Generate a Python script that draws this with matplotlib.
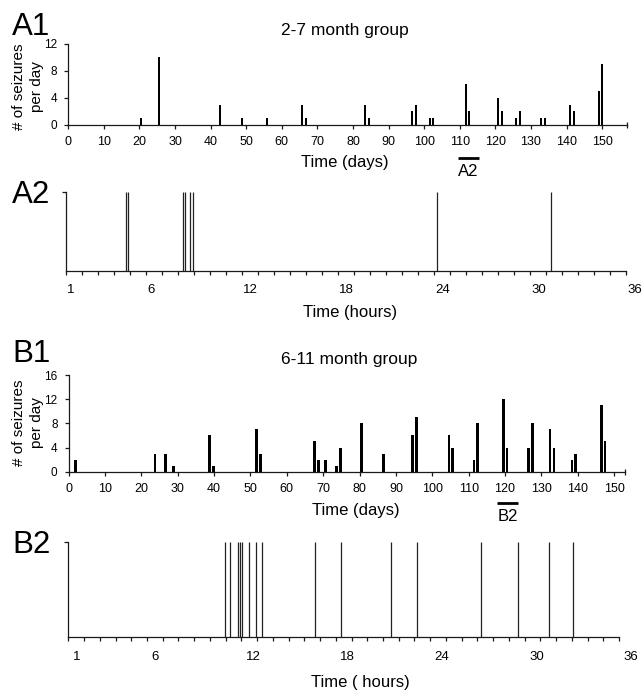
import matplotlib
matplotlib.use("Agg")
import matplotlib.pyplot as plt
import matplotlib.transforms as mtransforms

plt.rcParams['font.family'] = ['Liberation Sans', 'DejaVu Sans']

# ---------------- data ----------------
a1_days = [20.4, 25.5, 42.6, 48.7, 55.8, 65.7, 66.8, 83.5, 84.4, 96.5, 97.6,
           101.6, 102.5, 111.7, 112.7, 120.8, 121.8, 125.8, 126.8, 132.9,
           133.9, 140.9, 142.0, 149.0, 150.0]
a1_counts = [1, 10, 3, 1, 1, 3, 1, 3, 1, 2, 3, 1, 1, 6, 2, 4, 2, 1, 2, 1, 1,
             3, 2, 5, 9]
a1_xticks = list(range(0, 151, 10))
a1_yticks = [0, 4, 8, 12]
a2_window = [109.6, 115.3]

a2_hours = [4.71, 4.84, 8.28, 8.40, 8.71, 8.90, 24.15, 31.28]

b1_days = [1.8, 23.7, 26.7, 28.8, 38.8, 39.8, 51.7, 52.7, 67.6, 68.7, 70.6,
           73.7, 74.8, 80.6, 86.6, 94.5, 95.6, 104.6, 105.6, 111.5, 112.5,
           119.5, 120.5, 126.5, 127.6, 132.4, 133.5, 138.4, 139.4, 146.5, 147.5]
b1_counts = [2, 3, 3, 1, 6, 1, 7, 3, 5, 2, 2, 1, 4, 8, 3, 6, 9, 6, 4, 2, 8,
             12, 4, 4, 8, 7, 4, 2, 3, 11, 5]
b1_xticks = list(range(0, 151, 10))
b1_yticks = [0, 4, 8, 12, 16]
b2_window = [117.9, 123.6]

b2_hours = [10.96, 11.28, 11.79, 11.92, 12.06, 12.47, 12.95, 13.33, 16.66,
            18.34, 21.52, 23.17, 27.24, 29.59, 31.54, 33.07]

hour_ticks = list(range(1, 37))
hour_labels = [1, 6, 12, 18, 24, 30, 36]

ylabel_lines = ['# of seizures', 'per day']

W, H = 644, 692
fig = plt.figure(figsize=(W / 100, H / 100), dpi=100)
fig.patch.set_facecolor('white')

def box(l, r, t, b):
    return [l / W, 1 - b / H, (r - l) / W, (b - t) / H]

def fp(x, y):
    return (x / W, 1 - y / H)

AX = '#1a1a1a'

def style(ax):
    for s in ['top', 'right']:
        ax.spines[s].set_visible(False)
    for s in ['left', 'bottom']:
        ax.spines[s].set_color(AX)
        ax.spines[s].set_linewidth(0.9)
    ax.tick_params(colors=AX, width=0.9, length=3, direction='out')
    ax.set_facecolor('white')

def ylabel(ycenter):
    fig.text(*fp(19.5, ycenter), ylabel_lines[0], fontsize=11, rotation=90,
             ha='center', va='center')
    fig.text(*fp(37.5, ycenter), ylabel_lines[1], fontsize=11, rotation=90,
             ha='center', va='center')

# ---------------- A1 ----------------
ax1 = fig.add_axes(box(68.3, 627, 44, 124.7))
style(ax1)
ax1.bar(a1_days, a1_counts, width=0.55, color='black', linewidth=0)
ax1.set_xlim(0, 157)
ax1.set_ylim(0, 12)
ax1.set_xticks(a1_xticks)
ax1.set_yticks(a1_yticks)
ax1.set_xticks([157], minor=True)
ax1.tick_params(axis='x', which='minor', direction='inout', length=5, width=0.9, colors=AX)
ax1.tick_params(axis='x', labelsize=9, pad=5)
ax1.tick_params(axis='y', labelsize=8.5, pad=5)
for t in ax1.get_xticklabels() + ax1.get_yticklabels():
    t.set_color('black')
fig.text(*fp(345, 35), '2-7 month group', fontsize=12.5, ha='center', va='baseline')
fig.text(*fp(12, 35), 'A1', fontsize=22.5, ha='left', va='baseline')
ylabel(87)
fig.text(*fp(345, 163), 'Time (days)', fontsize=12, ha='center', va='center')
tr1 = mtransforms.blended_transform_factory(ax1.transData, fig.transFigure)
ax1.plot(a2_window, [1 - 157.7 / H] * 2, color='black', lw=2, transform=tr1,
         clip_on=False, solid_capstyle='butt')
fig.text(*fp(468.3, 172), 'A2', fontsize=12, ha='center', va='center')

# ---------------- A2 ----------------
ax2 = fig.add_axes(box(66.3, 626.3, 192.3, 271))
style(ax2)
ax2.vlines(a2_hours, 0, 1, color='#222222', lw=0.9)
ax2.set_xlim(1, 36)
ax2.set_ylim(0, 1)
ax2.set_xticks(hour_ticks)
ax2.set_xticklabels([str(h) if h in hour_labels else '' for h in hour_ticks])
ax2.set_yticks([1])
ax2.set_yticklabels([''])
ax2.tick_params(axis='x', labelsize=9.5, pad=6)
off2 = mtransforms.ScaledTranslation(1 / 100, 0, fig.dpi_scale_trans)
for t in ax2.get_xticklabels():
    t.set_ha('left')
    t.set_transform(t.get_transform() + off2)
    t.set_color('black')
fig.text(*fp(12, 203), 'A2', fontsize=22.5, ha='left', va='baseline')
fig.text(*fp(350.5, 312), 'Time (hours)', fontsize=12, ha='center', va='center')

# ---------------- B1 ----------------
ax3 = fig.add_axes(box(68.7, 625, 375, 471.7))
style(ax3)
ax3.bar(b1_days, b1_counts, width=0.72, color='black', linewidth=0)
ax3.set_xlim(0, 153)
ax3.set_ylim(0, 16)
ax3.set_xticks(b1_xticks)
ax3.set_yticks(b1_yticks)
ax3.set_xticks([153], minor=True)
ax3.tick_params(axis='x', which='minor', direction='inout', length=5, width=0.9, colors=AX)
ax3.tick_params(axis='x', labelsize=9, pad=5)
ax3.tick_params(axis='y', labelsize=8.5, pad=5)
for t in ax3.get_xticklabels() + ax3.get_yticklabels():
    t.set_color('black')
fig.text(*fp(349, 364), '6-11 month group', fontsize=12.5, ha='center', va='baseline')
fig.text(*fp(12, 362), 'B1', fontsize=22.5, ha='left', va='baseline')
ylabel(423)
fig.text(*fp(356, 510), 'Time (days)', fontsize=12, ha='center', va='center')
tr3 = mtransforms.blended_transform_factory(ax3.transData, fig.transFigure)
ax3.plot(b2_window, [1 - 502.5 / H] * 2, color='black', lw=2, transform=tr3,
         clip_on=False, solid_capstyle='butt')
fig.text(*fp(507.7, 516.5), 'B2', fontsize=12, ha='center', va='center')

# ---------------- B2 ----------------
ax4 = fig.add_axes(box(68.3, 619, 542.3, 637))
style(ax4)
ax4.vlines(b2_hours, 0, 1, color='#222222', lw=0.9)
ax4.set_xlim(1, 36)
ax4.set_ylim(0, 1)
ax4.set_xticks(hour_ticks)
ax4.set_xticklabels([str(h) if h in hour_labels else '' for h in hour_ticks])
ax4.set_yticks([1])
ax4.set_yticklabels([''])
ax4.tick_params(axis='x', labelsize=9.5, pad=7)
off4 = mtransforms.ScaledTranslation(4.5 / 100, 0, fig.dpi_scale_trans)
for t in ax4.get_xticklabels():
    t.set_ha('left')
    t.set_transform(t.get_transform() + off4)
    t.set_color('black')
fig.text(*fp(12, 553), 'B2', fontsize=22.5, ha='left', va='baseline')
fig.text(*fp(360, 683), 'Time ( hours)', fontsize=12, ha='center', va='center')

fig.savefig('out.png', dpi=100, facecolor='white')
